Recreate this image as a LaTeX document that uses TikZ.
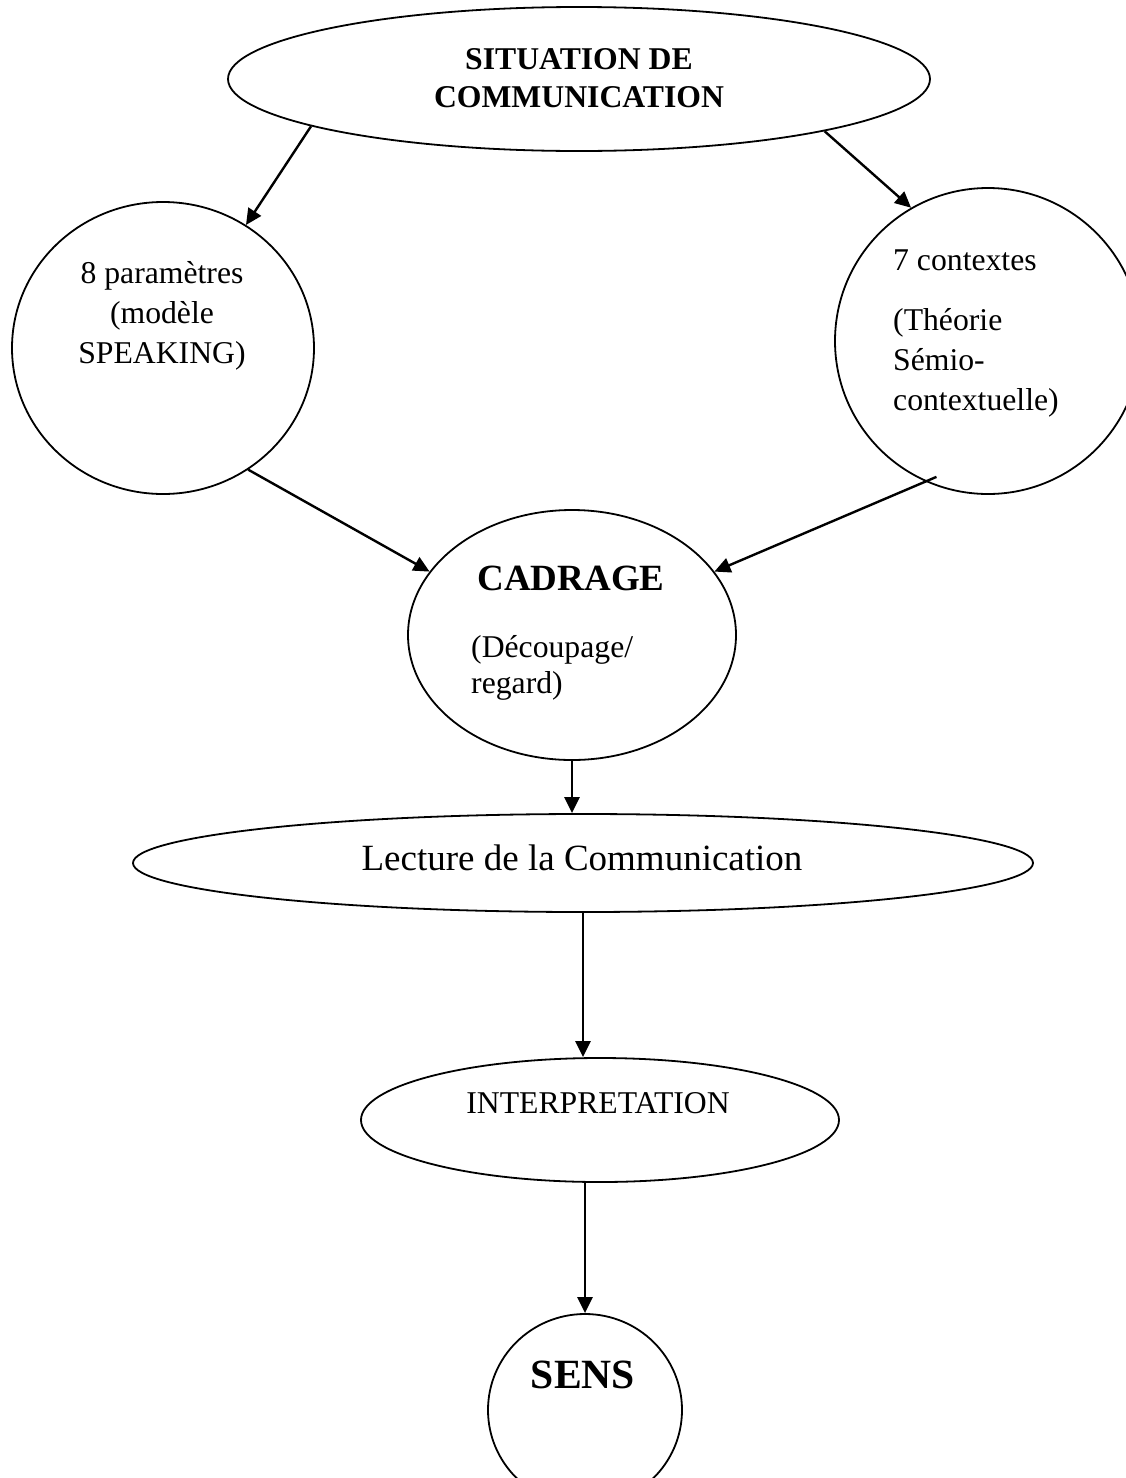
\documentclass[tikz,border=0pt]{standalone}
\usepackage{fontspec}
\setmainfont{Liberation Serif}
\usetikzlibrary{arrows.meta, shapes.geometric}
\newcommand{\corps}{\fontsize{31.7}{40}\selectfont}
\tikzset{
  bulle/.style={draw, ellipse, line width=1.8pt, inner sep=0pt},
  fleche/.style={-{Triangle[length=16pt, width=15pt]}, line width=2.4pt},
  texte/.style={font=\corps, inner sep=0pt, anchor=base},
}

\begin{document}
\begin{tikzpicture}[x=1pt, y=-1pt]
  \useasboundingbox (0,0) rectangle (1126,1478);
  % formes
  \node[bulle, minimum width=702pt, minimum height=144pt] (situation) at (579,79) {};
  \node[bulle, minimum width=302pt, minimum height=292pt] (params) at (163,348) {};
  \node[bulle, minimum size=306pt] (contextes) at (988,341) {};
  \node[bulle, minimum width=328pt, minimum height=250pt] (cadrage) at (572,635) {};
  \node[bulle, minimum width=900pt, minimum height=98pt] (lecture) at (583,863) {};
  \node[bulle, minimum width=478pt, minimum height=124pt] (interp) at (600,1120) {};
  \node[bulle, minimum width=194pt, minimum height=192pt] (sens) at (585,1410) {};
  % textes (base = ligne du bas)
  \node[texte, font=\fontsize{31.7}{38}\selectfont\bfseries, align=center] (situation-txt) at (579,107) {SITUATION DE\\COMMUNICATION};
  \node[texte, align=center] (params-txt) at (162,363) {8 paramètres\\(modèle\\SPEAKING)};
  \node[texte, anchor=base west, align=left] (contextes-txt) at (893,410) {7 contextes\\[20pt](Théorie\\Sémio-\\contextuelle)};
  \node[texte, font=\fontsize{37}{44}\selectfont\bfseries] (cadrage-titre) at (571,590) {CADRAGE};
  \node[texte, anchor=base west, align=left, font=\fontsize{31.7}{36}\selectfont] (cadrage-txt) at (471,693) {(Découpage/\\regard)};
  \node[texte, font=\fontsize{37}{44}\selectfont] (lecture-txt) at (582,870) {Lecture de la Communication};
  \node[texte] (interp-txt) at (598,1113) {INTERPRETATION};
  \node[texte, font=\fontsize{41.6}{48}\selectfont\bfseries] (sens-txt) at (583,1388) {SENS};
  % fleches
  \draw[fleche] (situation.190) -- (params.56);
  \draw[fleche] (situation.348) -- (contextes.120);
  \draw[fleche] (params.305) -- (cadrage.156);
  \draw[fleche, shorten <=-12pt] (contextes.246) -- (cadrage.24);
  \draw[fleche] (cadrage.south) -- (cadrage.south |- lecture.north);
  \draw[fleche] (lecture.south) -- (lecture.south |- interp.north);
  \draw[fleche] (interp.south -| sens.north) -- (sens.north);
\end{tikzpicture}
\end{document}
